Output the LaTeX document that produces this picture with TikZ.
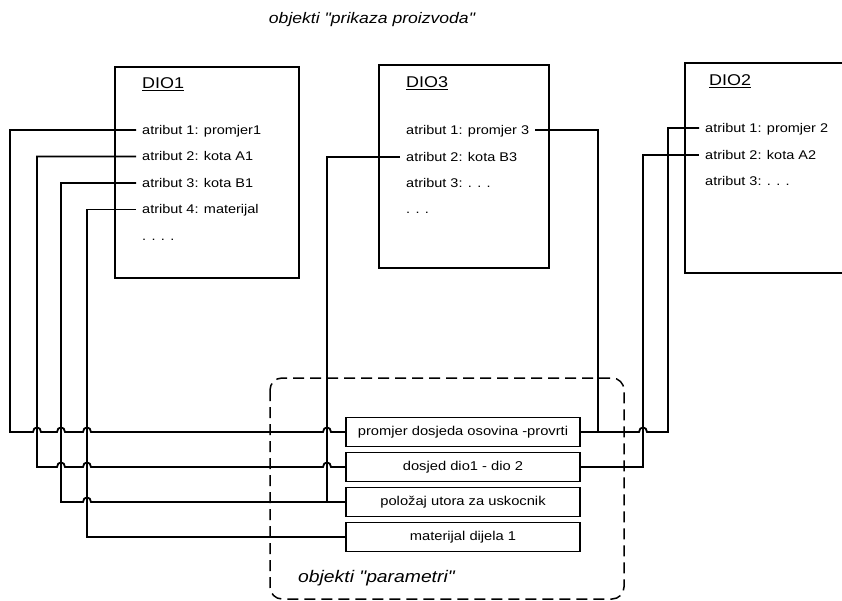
\documentclass[tikz,border=0pt]{standalone}
\usepackage{fontspec}
\setmainfont{Liberation Sans}[FakeStretch=1.15, Ligatures=TeXOff]
\newcommand{\hop}[2]{-- ({#1-4},#2) .. controls ({#1-4},{#2-6}) and ({#1+4},{#2-6}) .. ({#1+4},#2)}
\tikzset{
  wire/.style={line width=1.8pt},
  partbox/.style={draw, line width=1.8pt, anchor=north west, inner sep=0pt},
  head/.style={anchor=base west, inner sep=0pt, font=\fontsize{15.6}{18}\selectfont},
  attr/.style={anchor=west, inner xsep=6pt, inner ysep=1pt, text height=9.5pt, text depth=0.5pt,
    font=\fontsize{12.6}{15}\selectfont},
  param/.style={draw, line width=1.8pt, minimum width=234pt, minimum height=29pt, inner sep=0pt,
    font=\fontsize{12.8}{15}\selectfont},
}
\begin{document}
\begin{tikzpicture}[x=1pt, y=-1pt]
    \useasboundingbox (0,0) rectangle (842,601);
    % title
    \node[font=\itshape\fontsize{15.3}{18}\selectfont] (title) at (372,20) {objekti "prikaza proizvoda"};
    %! --- DIO1 ---
    \node[partbox, minimum width=184pt, minimum height=211pt] (dio1) at (114,66) {};
    \node[head] (h1) at (142,89) {\underline{DIO1}};
    \foreach \i/\t in {1/promjer1,2/kota A1,3/kota B1,4/materijal} {
        \node[attr] (d1a\i) at (136,{130+26.5*(\i-1)}) {atribut \i: \t};
    }
    \node[attr] (d1x) at (136,236) {. . . .};
    %! --- DIO3 ---
    \node[partbox, minimum width=170pt, minimum height=203pt] (dio3) at (378,64) {};
    \node[head] (h3) at (406,88) {\underline{DIO3}};
    \node[attr] (d3a1) at (400,130) {atribut 1: promjer 3};
    \node[attr] (d3a2) at (400,157) {atribut 2: kota B3};
    \node[attr] (d3a3) at (400,183) {atribut 3: . . .};
    \node[attr] (d3x) at (400,209) {. . .};
    %! --- DIO2 (cut by the right edge) ---
    \draw[line width=1.8pt] (842,63) -| (685,273) -- (842,273);
    \node[head] (h2) at (709,86) {\underline{DIO2}};
    \node[attr] (d2a1) at (699,128) {atribut 1: promjer 2};
    \node[attr] (d2a2) at (699,155) {atribut 2: kota A2};
    \node[attr] (d2a3) at (699,181) {atribut 3: . . .};
    %! --- parametri ---
    \draw[line width=1.5pt, dash pattern=on 11pt off 6pt, rounded corners=12pt] (270,378) rectangle (624,599);
    \node[anchor=west, font=\itshape\fontsize{16.8}{18}\selectfont, inner sep=0pt] (plabel) at (298,578) {objekti "parametri"};
    \node[param] (p1) at (463,432) {promjer dosjeda osovina -provrti};
    \node[param] (p2) at (463,467) {dosjed dio1 - dio 2};
    \node[param] (p3) at (463,502) {položaj utora za uskocnik};
    \node[param] (p4) at (463,537) {materijal dijela 1};
    % DIO1 connections
    \draw[wire] (d1a1.west) -| (10,432) \hop{37}{432} \hop{61}{432} \hop{87}{432} \hop{327}{432} -- (p1.west);
    \draw[wire] (d1a2.west) -| (37,467) \hop{61}{467} \hop{87}{467} \hop{327}{467} -- (p2.west);
    \draw[wire] (d1a3.west) -| (61,502) \hop{87}{502} -- (p3.west);
    \draw[wire] (d1a4.west) -| (87,537) -- (p4.west);
    % DIO3 connections
    \draw[wire] (d3a1.east) -| (598,432);
    \draw[wire] (d3a2.west) -| (327,502);
    % DIO2 connections
    \draw[wire] (p1.east) \hop{643}{432} -- (668,432) |- (d2a1.west);
    \draw[wire] (p2.east) -- (643,467) |- (d2a2.west);
\end{tikzpicture}
\end{document}
